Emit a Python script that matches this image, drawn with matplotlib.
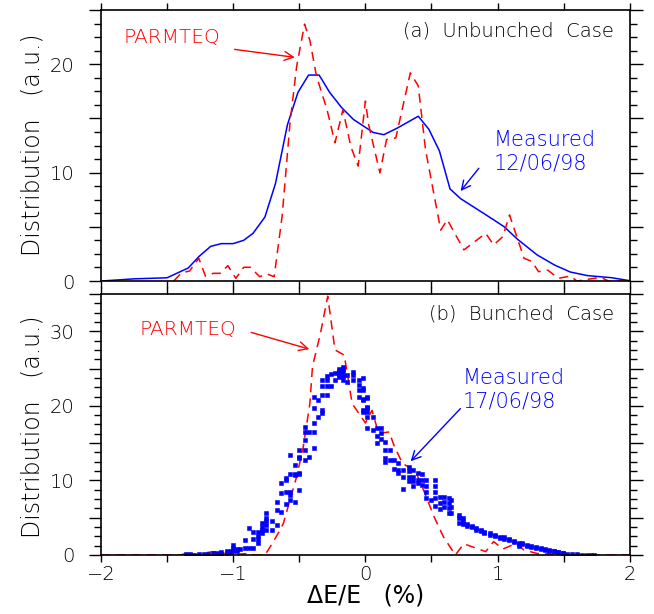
import matplotlib
matplotlib.use("Agg")
import matplotlib.pyplot as plt
from matplotlib.ticker import MultipleLocator, FuncFormatter

# ---- (a) unbunched case ----
meas_a_x = [-2.0, -1.75, -1.5, -1.34, -1.26, -1.17, -1.09, -1.0, -0.92, -0.85, -0.76, -0.68,
            -0.59, -0.51, -0.43, -0.35, -0.27, -0.18, -0.09, 0.06, 0.14, 0.24, 0.40, 0.48,
            0.56, 0.64, 0.72, 0.97, 1.05, 1.15, 1.30, 1.43, 1.55, 1.68, 1.86, 2.0]
meas_a_y = [0.0, 0.2, 0.3, 1.2, 2.25, 3.2, 3.45, 3.45, 3.76, 4.4, 5.9, 9.0,
            14.4, 17.4, 19.0, 19.0, 17.4, 16.0, 14.9, 13.7, 13.5, 14.1, 15.2, 14.0,
            12.0, 8.5, 7.6, 5.65, 5.0, 3.86, 2.4, 1.48, 0.83, 0.5, 0.31, 0.03]

parm_a_x = [-1.45, -1.39, -1.33, -1.26, -1.21, -1.15, -1.10, -1.04, -0.98, -0.92, -0.87, -0.80,
            -0.745, -0.69, -0.63, -0.57, -0.52, -0.46, -0.42, -0.37, -0.29, -0.23, -0.17, -0.11,
            -0.055, 0.0, 0.025, 0.11, 0.16, 0.23, 0.34, 0.40, 0.455, 0.57, 0.62, 0.745,
            0.91, 0.97, 1.04, 1.09, 1.2, 1.26, 1.31, 1.38, 1.46, 1.55, 1.6, 1.78, 1.84, 2.0]
parm_a_y = [0.0, 0.77, 0.92, 2.1, 0.46, 0.71, 0.71, 1.42, 0.25, 1.27, 1.27, 0.4,
            0.65, 0.4, 5.95, 14.6, 19.8, 23.7, 22.2, 18.9, 15.8, 12.75, 15.8, 12.4,
            10.6, 16.6, 14.4, 9.97, 13.05, 13.2, 19.2, 18.0, 12.1, 4.7, 5.65, 2.87,
            4.4, 3.33, 4.1, 6.1, 2.1, 1.8, 0.86, 1.0, 0.25, 0.46, 0.0, 0.34, 0.0, 0.0]

# ---- (b) bunched case ----
parm_b_x = [-2.0, -1.4, -1.34, -1.28, -1.21, -1.15, -1.06, -0.98, -0.88, -0.84, -0.76, -0.72,
            -0.66, -0.62, -0.57, -0.52, -0.47, -0.42, -0.40, -0.34, -0.285, -0.23, -0.16, -0.10,
            0.0, 0.05, 0.10, 0.18, 0.215, 0.28, 0.38, 0.44, 0.52, 0.59, 0.68, 0.745,
            0.91, 0.97, 1.04, 1.14, 1.2, 1.3, 1.43, 1.53, 2.0]
parm_b_y = [0.0, 0.0, 0.3, 0.0, 0.3, 0.45, 0.2, 0.1, 0.2, 0.0, 0.0, 1.1,
            2.9, 4.25, 7.4, 10.5, 14.5, 20.3, 25.3, 29.7, 34.7, 27.5, 26.8, 20.3,
            17.7, 19.4, 16.3, 16.5, 14.75, 12.3, 11.2, 8.7, 5.1, 2.45, 0.0, 1.5,
            0.45, 1.8, 0.8, 1.55, 0.67, 0.2, 0.1, 0.0, 0.0]

# measured points, grouped by dE/E column
meas_b_x = [-1.36, -1.33, -1.30, -1.26, -1.22, -1.19, -1.15, -1.12, -1.09, -1.05, -1.02, -1.00,
            -0.97, -0.95, -0.91, -0.88, -0.85, -0.81, -0.78, -0.75, -0.71, -0.67, -0.64, -0.60,
            -0.57, -0.535, -0.505, -0.46, -0.43, -0.39, -0.36, -0.33, -0.29, -0.26, -0.23, -0.20,
            -0.17, -0.14, -0.095, -0.05, -0.018, 0.015, 0.058, 0.088, 0.12, 0.152, 0.184, 0.215,
            0.25, 0.286, 0.328, 0.36, 0.396, 0.43, 0.462, 0.498, 0.53, 0.563, 0.598, 0.631,
            0.65, 0.707, 0.737, 0.77, 0.803, 0.833, 0.871, 0.896, 0.942, 0.98, 1.015, 1.048,
            1.086, 1.124, 1.16, 1.187, 1.225, 1.25, 1.288, 1.326, 1.358, 1.39, 1.426, 1.457,
            1.498, 1.528, 1.566, 1.60, 1.64, 1.68, 1.71, 1.73]
meas_b_y = [[0.1], [0.1], [0.05], [0.15], [0.1], [0.2], [0.25], [0.3], [0.35, 0.2], [0.5, 0.3],
            [0.6, 0.4], [1.3, 1.0, 0.7, 0.5], [0.8, 0.6], [0.8], [0.9, 2.0], [1.0, 3.6],
            [1.0, 2.1, 3.1], [1.6, 2.1, 2.6, 3.1], [2.9, 3.3, 3.7, 4.3], [3.3, 4.0, 4.5, 5.0, 5.6],
            [3.4, 4.6], [4.0, 6.1, 7.1], [5.8, 8.3, 9.6], [6.9, 8.5, 10.1, 10.3],
            [7.4, 8.0, 8.5, 10.9, 13.4], [7.1, 10.7, 10.8, 12.1], [8.7, 10.9, 11.0, 13.0, 13.2, 14.1],
            [12.7, 14.1, 15.4, 16.5, 17.2], [13.2, 16.5], [14.3, 16.5, 17.7, 19.7, 21.2],
            [18.5, 20.8], [19.0, 19.4, 21.5, 22.6, 23.4], [21.5, 22.6, 23.5, 24.0], [22.6, 24.3],
            [23.5, 24.4], [23.9, 24.3, 24.7, 25.0], [23.5, 24.0, 24.5, 24.9, 25.2], [23.2, 24.1],
            [23.5, 24.1, 24.6], [21.2, 22.1, 22.8, 23.5], [19.2, 19.4, 20.8, 20.9, 22.1, 22.4, 23.7],
            [17.0, 18.5, 19.2, 19.7, 19.9, 21.0, 21.2], [16.8, 18.5], [15.0, 15.9, 17.0],
            [15.6, 16.3, 17.0], [12.5, 13.0, 14.1, 15.2], [12.7, 14.1], [11.5, 12.7],
            [11.0, 11.4, 12.3], [8.9, 10.5, 11.4], [9.9, 10.5, 11.2, 11.8], [9.2, 9.9, 10.5, 11.4],
            [9.6, 10.1, 11.0], [9.4, 10.0, 10.8], [7.6, 8.5, 9.3, 10.1], [7.4],
            [6.6, 7.6, 8.5, 9.2, 10.1], [6.2, 7.0, 7.8], [6.4, 7.1, 7.8], [5.6, 6.3, 7.0, 7.6],
            [5.6, 6.5, 7.4], [4.3, 4.9, 5.4], [4.2, 4.6, 4.9], [3.9, 4.2], [3.7, 3.9], [3.4, 3.6],
            [3.2, 3.35], [2.9, 3.1], [2.7, 2.9], [2.5, 2.7], [2.3, 2.45], [2.2, 2.4],
            [2.0, 2.15], [1.75, 1.9], [1.2, 1.5, 1.65], [1.45, 1.57], [1.25, 1.34], [1.05, 1.15],
            [0.95, 1.03], [0.85, 0.9], [0.7, 0.76], [0.6, 0.67], [0.5, 0.58], [0.4, 0.45],
            [0.28, 0.31], [0.2], [0.1], [0.07], [0.05], [0.04], [0.03], [0.02]]

scat_x = [x for x, ys in zip(meas_b_x, meas_b_y) for _ in ys]
scat_y = [y for ys in meas_b_y for y in ys]

plt.rcParams['font.family'] = 'DejaVu Sans'
plt.rcParams['font.weight'] = 'light'

BLUE = '#0000ff'
RED = '#ff0000'

fig = plt.figure(figsize=(6.54, 6.14), dpi=100)
ax1 = fig.add_axes([0.1544, 0.5423, 0.8086, 0.4414])
ax2 = fig.add_axes([0.1544, 0.0961, 0.8086, 0.4251])


def style(ax, ymax, show_x):
    ax.set_xlim(-2, 2)
    ax.set_ylim(0, ymax)
    ax.xaxis.set_major_locator(MultipleLocator(1))
    ax.xaxis.set_minor_locator(MultipleLocator(0.5))
    ax.yaxis.set_major_locator(MultipleLocator(5))
    ax.yaxis.set_minor_locator(MultipleLocator(1.25))
    ax.yaxis.set_major_formatter(FuncFormatter(lambda v, p: f"{v:.0f}" if v % 10 == 0 else ""))
    ax.tick_params(axis='both', which='both', direction='out', top=True, right=True,
                   labelsize=14, width=1.0, color='black')
    ax.tick_params(axis='x', which='both', length=5, pad=2)
    ax.tick_params(axis='y', which='major', length=9, pad=10)
    ax.tick_params(axis='y', which='minor', length=5)
    if not show_x:
        ax.tick_params(axis='x', labelbottom=False)
    for s in ax.spines.values():
        s.set_linewidth(1.2)


style(ax1, 25, False)
style(ax2, 35, True)

ax1.plot(meas_a_x, meas_a_y, color=BLUE, lw=1.1)
ax1.plot(parm_a_x, parm_a_y, color=RED, lw=1.1, linestyle=(0, (6, 4)))

ax2.plot(parm_b_x, parm_b_y, color=RED, lw=1.1, linestyle=(0, (6, 4)))
ax2.plot(scat_x, scat_y, 's', color=BLUE, markersize=2.4, markeredgewidth=0.4, linestyle='none')

arrow_r = dict(arrowstyle='->', color=RED, lw=1.0, mutation_scale=16)
arrow_b = dict(arrowstyle='->', color=BLUE, lw=1.0, mutation_scale=16)

ax1.text(-1.83, 22.5, 'PARMTEQ', color=RED, fontsize=14.5, va='center', ha='left')
ax1.annotate('', xy=(-0.513, 20.6), xytext=(-1.01, 21.4), arrowprops=arrow_r)
ax1.text(1.88, 23.05, '(a)  Unbunched  Case', color='black', fontsize=14, va='center', ha='right')
ax1.text(0.97, 11.9, 'Measured\n12/06/98', color=BLUE, fontsize=15, va='center', ha='left',
         linespacing=1.2)
ax1.annotate('', xy=(0.707, 8.1), xytext=(0.871, 10.6), arrowprops=arrow_b)

ax2.text(-1.71, 30.2, 'PARMTEQ', color=RED, fontsize=14.5, va='center', ha='left')
ax2.annotate('', xy=(-0.404, 27.5), xytext=(-0.884, 29.95), arrowprops=arrow_r)
ax2.text(1.88, 32.3, '(b)  Bunched  Case', color='black', fontsize=14, va='center', ha='right')
ax2.text(0.733, 22.2, 'Measured\n17/06/98', color=BLUE, fontsize=15, va='center', ha='left',
         linespacing=1.2)
ax2.annotate('', xy=(0.328, 12.3), xytext=(0.733, 19.9), arrowprops=arrow_b)

ax2.set_xlabel('ΔE/E   (%)', fontsize=17, labelpad=0)
fig.text(0.05, 0.765, 'Distribution   (a.u.)', rotation=90, fontsize=17, ha='center', va='center')
fig.text(0.05, 0.305, 'Distribution   (a.u.)', rotation=90, fontsize=17, ha='center', va='center')

fig.savefig('out.png', dpi=100)
